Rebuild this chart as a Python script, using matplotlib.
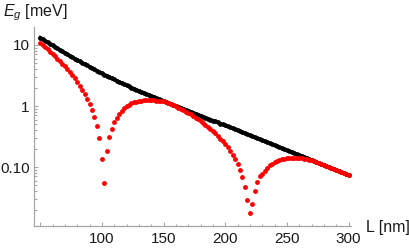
import matplotlib
matplotlib.use("Agg")
import matplotlib.pyplot as plt
import numpy as np
from matplotlib.ticker import FixedLocator, NullFormatter

plt.rcParams['font.family'] = ['Liberation Sans', 'DejaVu Sans']
plt.rcParams['mathtext.fontset'] = 'custom'
plt.rcParams['mathtext.rm'] = 'Liberation Sans'
plt.rcParams['mathtext.it'] = 'Liberation Sans:italic'

# L [nm], sampled every 2 nm
L = list(range(50, 302, 2))

# log10(E_g / meV)
black_log10 = [
    1.120, 1.094, 1.068, 1.043, 1.018, 0.993, 0.968, 0.943, 0.919, 0.895,
    0.871, 0.847, 0.823, 0.800, 0.777, 0.754, 0.731, 0.708, 0.686, 0.664,
    0.642, 0.620, 0.599, 0.578, 0.557, 0.536, 0.515, 0.495, 0.474, 0.454,
    0.435, 0.415, 0.396, 0.376, 0.357, 0.339, 0.320, 0.302, 0.284, 0.266,
    0.248, 0.232, 0.216, 0.199, 0.183, 0.167, 0.151, 0.135, 0.118, 0.102,
    0.086, 0.070, 0.054, 0.037, 0.021, 0.005, -0.011, -0.027, -0.044, -0.060,
    -0.076, -0.092, -0.108, -0.125, -0.141, -0.157, -0.173, -0.189, -0.206, -0.222,
    -0.238, -0.254, -0.270, -0.287, -0.303, -0.319, -0.335, -0.351, -0.368, -0.384,
    -0.400, -0.416, -0.432, -0.449, -0.465, -0.481, -0.497, -0.513, -0.530, -0.546,
    -0.562, -0.578, -0.594, -0.611, -0.627, -0.643, -0.659, -0.675, -0.692, -0.708,
    -0.724, -0.740, -0.756, -0.773, -0.789, -0.805, -0.821, -0.837, -0.854, -0.870,
    -0.886, -0.902, -0.918, -0.935, -0.951, -0.967, -0.983, -0.999, -1.016, -1.032,
    -1.048, -1.064, -1.080, -1.097, -1.113, -1.129,
]

red_log10 = [
    1.040, 1.000, 0.965, 0.930, 0.890, 0.855, 0.815, 0.775, 0.735, 0.695,
    0.655, 0.610, 0.560, 0.510, 0.455, 0.400, 0.335, 0.270, 0.200, 0.120,
    0.033, -0.066, -0.175, -0.328, -0.530, -0.874, -1.270, -0.738, -0.510, -0.370,
    -0.270, -0.190, -0.130, -0.080, -0.040, -0.005, 0.020, 0.042, 0.060, 0.073,
    0.083, 0.090, 0.094, 0.096, 0.096, 0.095, 0.093, 0.090, 0.086, 0.081,
    0.075, 0.064, 0.049, 0.032, 0.014, -0.005, -0.025, -0.046, -0.068, -0.091,
    -0.114, -0.139, -0.165, -0.192, -0.220, -0.249, -0.279, -0.310, -0.342, -0.376,
    -0.412, -0.450, -0.490, -0.533, -0.579, -0.628, -0.680, -0.737, -0.800, -0.870,
    -0.950, -1.045, -1.160, -1.320, -1.540, -1.750, -1.610, -1.400, -1.250, -1.150,
    -1.110, -1.060, -1.015, -0.975, -0.945, -0.920, -0.900, -0.885, -0.872, -0.862,
    -0.855, -0.850, -0.847, -0.846, -0.847, -0.850, -0.855, -0.861, -0.869, -0.878,
    -0.889, -0.905, -0.921, -0.938, -0.954, -0.970, -0.986, -1.002, -1.019, -1.035,
    -1.051, -1.067, -1.083, -1.100, -1.116, -1.132,
]

x_ticks = [50, 100, 150, 200, 250, 300]
x_ticklabels = ['', '100', '150', '200', '250', '300']
y_ticks = [0.1, 1, 10]
y_ticklabels = ['0.10', '1', '10']

W, H = 409, 249
fig = plt.figure(figsize=(W / 100, H / 100), dpi=100)
ax = fig.add_axes([34 / W, 1 - 226 / H, 317 / W, 199 / H])

# black points are so dense they read as a solid band
ax.plot(L, 10 ** np.array(black_log10), 'o-', color='black', ms=3.4, mew=0,
        lw=2.5)
ax.plot(L, 10 ** np.array(red_log10), 'o', color='#ff0000', ms=3.5, mew=0)

ax.set_yscale('log')
ax.set_xlim(45, 302)
ax.set_ylim(10 ** -1.967, 10 ** 1.295)

axis_grey = '#a6a6a6'
for s in ['top', 'right']:
    ax.spines[s].set_visible(False)
for s in ['left', 'bottom']:
    ax.spines[s].set_color(axis_grey)
    ax.spines[s].set_linewidth(0.9)

ax.set_xticks(x_ticks)
ax.set_xticklabels(x_ticklabels)
ax.xaxis.set_minor_locator(FixedLocator(np.arange(50, 301, 10)))
ax.set_yticks(y_ticks)
ax.set_yticklabels(y_ticklabels)
ax.yaxis.set_minor_locator(FixedLocator(
    [m * d for d in [0.01, 0.1, 1, 10] for m in range(2, 10)]))
ax.yaxis.set_minor_formatter(NullFormatter())

ax.tick_params(which='both', direction='in', color=axis_grey, width=0.8,
               labelsize=11, labelcolor='#1a1a1a')
ax.tick_params(which='major', length=3.2, pad=4)
ax.tick_params(axis='y', which='major', pad=3)
ax.tick_params(which='minor', length=1.8)

fig.text(3 / W, 1 - 13 / H, r'$E_g$ [meV]', fontsize=11.5, color='#1a1a1a',
         va='center', ha='left')
fig.text(366 / W, 1 - 227 / H, 'L [nm]', fontsize=11.5, color='#1a1a1a',
         va='center', ha='left')

fig.savefig('out.png', dpi=100)
